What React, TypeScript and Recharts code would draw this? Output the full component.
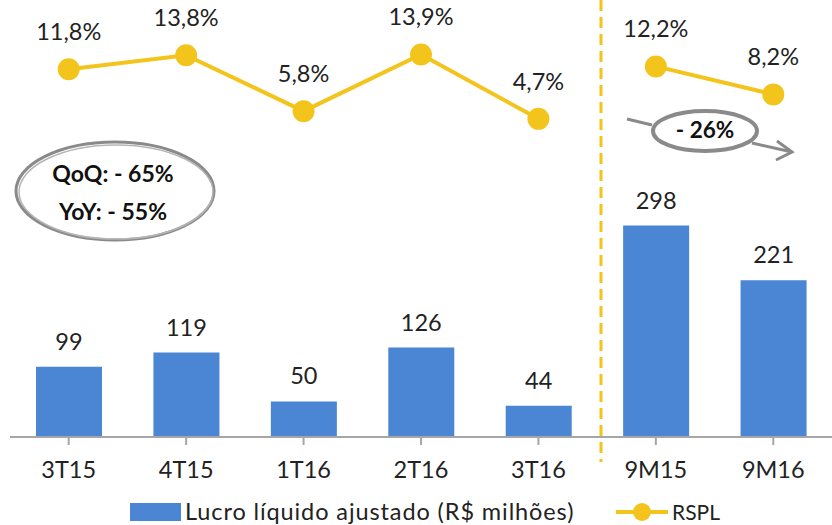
import React from 'react'
import { ComposedChart, Bar, Line, XAxis, YAxis, LabelList, Customized } from 'recharts'

const categories = ['3T15', '4T15', '1T16', '2T16', '3T16', '9M15', '9M16']
const lucro = [99, 119, 50, 126, 44, 298, 221]
const rsplQuarter = [11.8, 13.8, 5.8, 13.9, 4.7, null, null]
const rsplNineMonths = [null, null, null, null, null, 12.2, 8.2]

const data = categories.map((name, i) => ({
  name,
  lucro: lucro[i],
  rspl1: rsplQuarter[i],
  rspl2: rsplNineMonths[i],
}))

const BLUE = '#4a86d3'
const YELLOW = '#f3c41b'
const GREY = '#8a8a8a'
const FONT = 'Lato, "Open Sans", sans-serif'
const FS = 23.5

const pct = (v: any) => (v == null ? '' : Number(v).toFixed(1).replace('.', ',') + '%')

const barLabel = (props: any) => {
  const { x, y, width, value } = props
  return (
    <text x={x + width / 2} y={y - 23} textAnchor="middle" dominantBaseline="middle" fontSize={FS} fill="#222" fontFamily={FONT}>
      {value}
    </text>
  )
}

const lineLabel = (props: any) => {
  const { x, y, value } = props
  if (value == null) return null
  return (
    <text x={x} y={y - 35} textAnchor="middle" dominantBaseline="middle" fontSize={FS} fill="#222" fontFamily={FONT}>
      {pct(value)}
    </text>
  )
}

function Extras() {
  return (
    <g fontFamily={FONT}>
      {/* separador */}
      <line x1={601} y1={0} x2={601} y2={462} stroke={YELLOW} strokeWidth={3} strokeDasharray="11 6" />
      {/* QoQ / YoY */}
      <ellipse cx={115} cy={191} rx={99} ry={49} fill="none" stroke={GREY} strokeWidth={3} />
      <ellipse cx={116} cy={192} rx={97} ry={47} fill="none" stroke="#b5b5b5" strokeWidth={1.5} />
      <text x={113} y={176} textAnchor="middle" dominantBaseline="middle" fontSize={23} fontWeight="bold" fill="#111">QoQ: - 65%</text>
      <text x={113} y={214} textAnchor="middle" dominantBaseline="middle" fontSize={23} fontWeight="bold" fill="#111">YoY: - 55%</text>
      {/* -26% */}
      <line x1={627} y1={119} x2={652} y2={125} stroke={GREY} strokeWidth={3} />
      <line x1={752} y1={143} x2={792} y2={152} stroke={GREY} strokeWidth={3} />
      <polyline points="777,141 792,152 776,160" fill="none" stroke={GREY} strokeWidth={3} />
      <ellipse cx={705} cy={131} rx={52} ry={20} fill="#fff" stroke={GREY} strokeWidth={4} />
      <text x={705} y={132} textAnchor="middle" dominantBaseline="middle" fontSize={22.5} fontWeight="bold" fill="#111">- 26%</text>
      {/* legenda */}
      <rect x={130} y={503} width={51} height={18} fill={BLUE} />
      <text x={185} y={520} fontSize={FS} letterSpacing={0.9} fill="#222">Lucro líquido ajustado (R$ milhões)</text>
      <line x1={616} y1={512} x2={668} y2={512} stroke={YELLOW} strokeWidth={4} />
      <circle cx={642} cy={512} r={9} fill={YELLOW} />
      <text x={672} y={520} fontSize={21} fill="#222">RSPL</text>
    </g>
  )
}

export default function App() {
  return (
    <div style={{ position: 'absolute', left: 0, top: 0, width: 832, height: 525, background: '#fff' }}>
      <ComposedChart width={832} height={525} data={data} margin={{ top: 0, right: 0, left: 10, bottom: 38 }}>
        <XAxis
          dataKey="name"
          height={50}
          tickSize={8}
          tickMargin={16}
          axisLine={{ stroke: '#a6a6a6', strokeWidth: 2 }}
          tickLine={{ stroke: '#a6a6a6', strokeWidth: 2 }}
          tick={{ fontSize: FS, fill: '#222', fontFamily: FONT }}
          interval={0}
        />
        <YAxis yAxisId="left" hide domain={[0, 616]} />
        <YAxis yAxisId="right" orientation="right" hide domain={[-40.8, 21.7]} />
        <Bar yAxisId="left" dataKey="lucro" fill={BLUE} barSize={66} isAnimationActive={false}>
          <LabelList dataKey="lucro" content={barLabel} />
        </Bar>
        <Line yAxisId="right" dataKey="rspl1" stroke={YELLOW} strokeWidth={4} dot={{ r: 9, fill: YELLOW, stroke: YELLOW }} isAnimationActive={false}>
          <LabelList dataKey="rspl1" content={lineLabel} />
        </Line>
        <Line yAxisId="right" dataKey="rspl2" stroke={YELLOW} strokeWidth={4} dot={{ r: 9, fill: YELLOW, stroke: YELLOW }} isAnimationActive={false}>
          <LabelList dataKey="rspl2" content={lineLabel} />
        </Line>
        <Customized component={Extras} />
      </ComposedChart>
    </div>
  )
}
